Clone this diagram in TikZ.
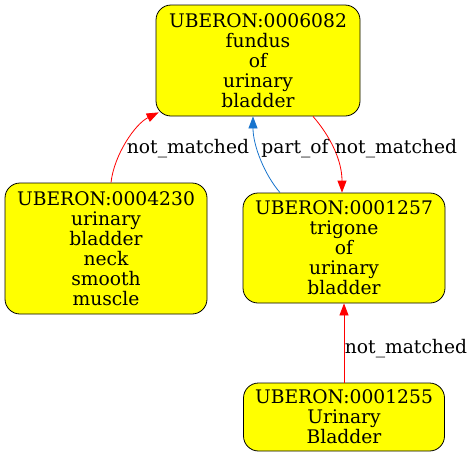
\documentclass[tikz,border=0pt]{standalone}
\usepackage{fontspec}
\setmainfont{DejaVu Serif}
\usetikzlibrary{arrows.meta,calc}
\definecolor{nodeyellow}{HTML}{FFFF00}
\definecolor{edgered}{HTML}{FF0000}
\definecolor{edgeblue}{HTML}{1874CD}
\begin{document}
\begin{tikzpicture}[x=1pt,y=-1pt,
  termbox/.style={draw=black, fill=nodeyellow, rounded corners=15pt, align=center,
    inner sep=0pt, font=\fontsize{18.7}{20}\selectfont, line width=0.8pt},
  edgelabel/.style={font=\fontsize{18.7}{20}\selectfont, inner sep=0pt},
  rededge/.style={draw=edgered, line width=0.8pt, -{Triangle[length=12pt,width=9pt]}},
  blueedge/.style={draw=edgeblue, line width=0.8pt, -{Triangle[length=12pt,width=9pt]}}]
\useasboundingbox (0,0) rectangle (473,459);
\node[termbox, minimum width=204pt, minimum height=111pt] (A) at (258,60.5)
  {UBERON:0006082\\fundus\\of\\urinary\\bladder};
\node[termbox, minimum width=202pt, minimum height=131pt] (B) at (106,248.5)
  {UBERON:0004230\\urinary\\bladder\\neck\\smooth\\muscle};
\node[termbox, minimum width=202pt, minimum height=110pt] (C) at (344,248)
  {UBERON:0001257\\trigone\\of\\urinary\\bladder};
\node[termbox, minimum width=201pt, minimum height=68pt] (D) at (344,417)
  {UBERON:0001255\\Urinary\\Bladder};
% edges
\coordinate (bstart) at ([xshift=5pt]B.north);
\coordinate (aend1) at ([xshift=3pt,yshift=4pt]A.south west);
\draw[rededge] (bstart) .. controls (114,155) and (135,124) .. (aend1);
\node[edgelabel] (l1) at (188,149) {not\_matched};
\coordinate (cstart) at ([xshift=-64pt]C.north);
\coordinate (aend2) at ([xshift=-5pt]A.south);
\draw[blueedge] (cstart) .. controls (264,174) and (253,145) .. (aend2);
\node[edgelabel] (l2) at (295,149) {part\_of};
\coordinate (astart) at ([xshift=55pt]A.south);
\coordinate (cend) at ([xshift=-2pt]C.north);
\draw[rededge] (astart) .. controls (330,136) and (342,160) .. (cend);
\node[edgelabel] (l3) at (396,149) {not\_matched};
\draw[rededge] (D.north) -- (C.south);
\node[edgelabel] (l4) at (406,349) {not\_matched};
\end{tikzpicture}
\end{document}
